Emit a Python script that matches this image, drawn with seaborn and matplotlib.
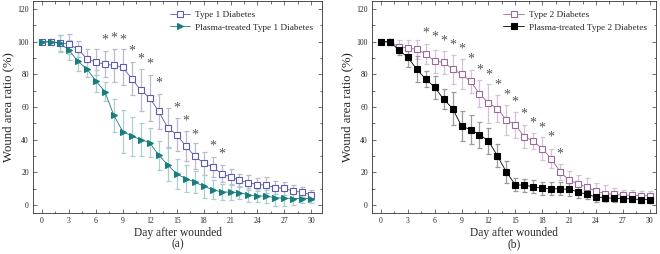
# Wound healing curves, two panels
import pandas as pd
import numpy as np
import matplotlib
matplotlib.use("Agg")
import matplotlib.pyplot as plt
import seaborn as sns
from matplotlib.ticker import MultipleLocator

days = list(range(31))

# panel (a)
t1_mean = [100, 100, 99.4, 98.5, 95.5, 89.6, 87.5, 86.3, 85.5, 84.3, 77.5, 70.3, 65.6,
           57.3, 47.4, 43.1, 36.2, 30.1, 25.6, 23.3, 19.2, 17.2, 15.1, 13.7, 12.5, 12.1,
           10.6, 10.2, 8.4, 7.8, 6.1]
t1_sd = [0, 2, 5, 6, 5, 6, 8, 8, 10, 11, 10, 13, 14, 11, 12, 10, 9, 8, 7, 6, 5, 5, 4,
         4.5, 4, 5, 4, 4, 4, 3, 3]
pt1_mean = [100, 100, 99, 95, 88, 83.4, 76, 69.5, 55, 45, 42.1, 40.1, 38.2, 30.5, 24.7,
            19, 16.2, 14.1, 11.5, 9.4, 8, 7.8, 7.6, 6.1, 5.7, 5.3, 4.5, 4.1, 3.9, 3.9, 3.9]
pt1_sd = [0, 1, 5, 6, 6, 5, 7, 6, 10, 13, 12, 10, 9, 9, 10, 9, 8, 7, 7, 6, 5, 5, 4, 4,
          4, 4, 5, 5, 4, 3, 3]
stars_a_days = [7, 8, 9, 10, 11, 12, 13, 15, 16, 17, 19, 20]
stars_a_y = [100.8, 102, 101, 94.5, 89.6, 86.3, 75, 59.7, 51.7, 43, 36.4, 31]

# panel (b)
t2_mean = [100, 100, 97, 96.3, 95.3, 92.6, 88.1, 87.5, 83.2, 80.2, 75.7, 68.3, 62.4,
           59.1, 52.1, 49.1, 41.9, 39.1, 34.6, 28.4, 20.4, 15.1, 13.1, 10.8, 8.4, 7,
           6.5, 6.1, 5.9, 5.7, 5.7]
t2_sd = [0, 2, 4, 5, 6, 6, 7, 7, 9, 9, 7, 8, 12, 8, 9, 8, 7, 5, 7, 6, 5, 6, 5, 6, 5, 5,
         4, 3, 3, 3, 3]
pt2_mean = [100, 100, 95, 90.4, 83.2, 77.1, 72.2, 64.8, 59.1, 48.3, 46.2, 43.1, 39.3,
            30.1, 20.2, 12.3, 12.1, 11.2, 10.2, 10, 9.8, 9.6, 8, 6.5, 4.9, 4.3, 4.1,
            3.9, 3.7, 3.3, 3.3]
pt2_sd = [0, 2, 3, 6, 8, 5, 7, 6, 10, 9, 9, 8, 8, 7, 7, 4, 4, 4, 4, 4, 4, 4, 4, 3, 3,
          2, 2, 2, 2, 2, 2]
stars_b_days = list(range(5, 21))
stars_b_y = [105.3, 102.7, 100.4, 98, 95.7, 89.6, 82.8, 79.6, 73.6, 67.3, 63.2, 55.6,
             50.1, 47.4, 41.5, 31.3]

sns.set_style("ticks")
plt.rcParams["font.family"] = ["Liberation Serif", "DejaVu Serif"]
plt.rcParams["axes.linewidth"] = 0.6

fig = plt.figure(figsize=(6.6, 2.54), dpi=100)
ax_a = fig.add_axes([0.050, 0.161, 0.438, 0.835])
ax_b = fig.add_axes([0.5636, 0.161, 0.4303, 0.835])


def draw_series(ax, mean, sd, label, color, ecolor, marker, mfc):
    df = pd.DataFrame({"day": days, "ratio": mean})
    ax.errorbar(days, mean, yerr=sd, fmt="none", ecolor=ecolor, elinewidth=0.9,
                capsize=1.8, capthick=0.9, zorder=1)
    sns.lineplot(data=df, x="day", y="ratio", ax=ax, color=color, lw=0.6,
                 marker=marker, markersize=4.2, markerfacecolor=mfc,
                 markeredgecolor=color, markeredgewidth=0.8, label=label, zorder=2)


def style_axes(ax, xmax, letter, sd_days, sd_y):
    for d, y in zip(sd_days, sd_y):
        ax.text(d, y, "*", ha="center", va="center", fontsize=10, color="#555555")
    ax.set_xlim(-1, xmax)
    ax.set_ylim(-5, 125)
    ax.xaxis.set_major_locator(MultipleLocator(3))
    ax.xaxis.set_minor_locator(MultipleLocator(1.5))
    ax.yaxis.set_major_locator(MultipleLocator(20))
    ax.yaxis.set_minor_locator(MultipleLocator(10))
    ax.tick_params(which="both", direction="in", labelsize=5.5, width=0.5,
                   pad=3, top=True, right=True, color="#333333")
    ax.tick_params(which="major", length=3)
    ax.tick_params(which="minor", length=1.8)
    for s in ax.spines.values():
        s.set_visible(True)
        s.set_color("#333333")
    ax.set_xlabel("Day after wounded\n(" + letter + ")", fontsize=8.3, labelpad=1,
                  linespacing=1.0)
    ax.set_ylabel("Wound area ratio (%)", fontsize=9.2, labelpad=2)
    ax.legend(loc="upper right", frameon=False, fontsize=6.7, handlelength=2.2,
              borderaxespad=0.6, labelspacing=0.45, handletextpad=0.5)


draw_series(ax_a, t1_mean, t1_sd, "Type 1 Diabetes", "#5b5bb0", "#b9b9cf", "s", "white")
draw_series(ax_a, pt1_mean, pt1_sd, "Plasma-treated Type 1 Diabetes", "#1a7d7d",
            "#a9d0cf", ">", "#1a7d7d")
style_axes(ax_a, 31.2, "a", stars_a_days, stars_a_y)

draw_series(ax_b, t2_mean, t2_sd, "Type 2 Diabetes", "#9a6a9a", "#d6c2d4", "s", "white")
draw_series(ax_b, pt2_mean, pt2_sd, "Plasma-treated Type 2 Diabetes", "#000000",
            "#9a9a9a", "s", "#000000")
style_axes(ax_b, 30.7, "b", stars_b_days, stars_b_y)

fig.savefig("out.png", dpi=100)
